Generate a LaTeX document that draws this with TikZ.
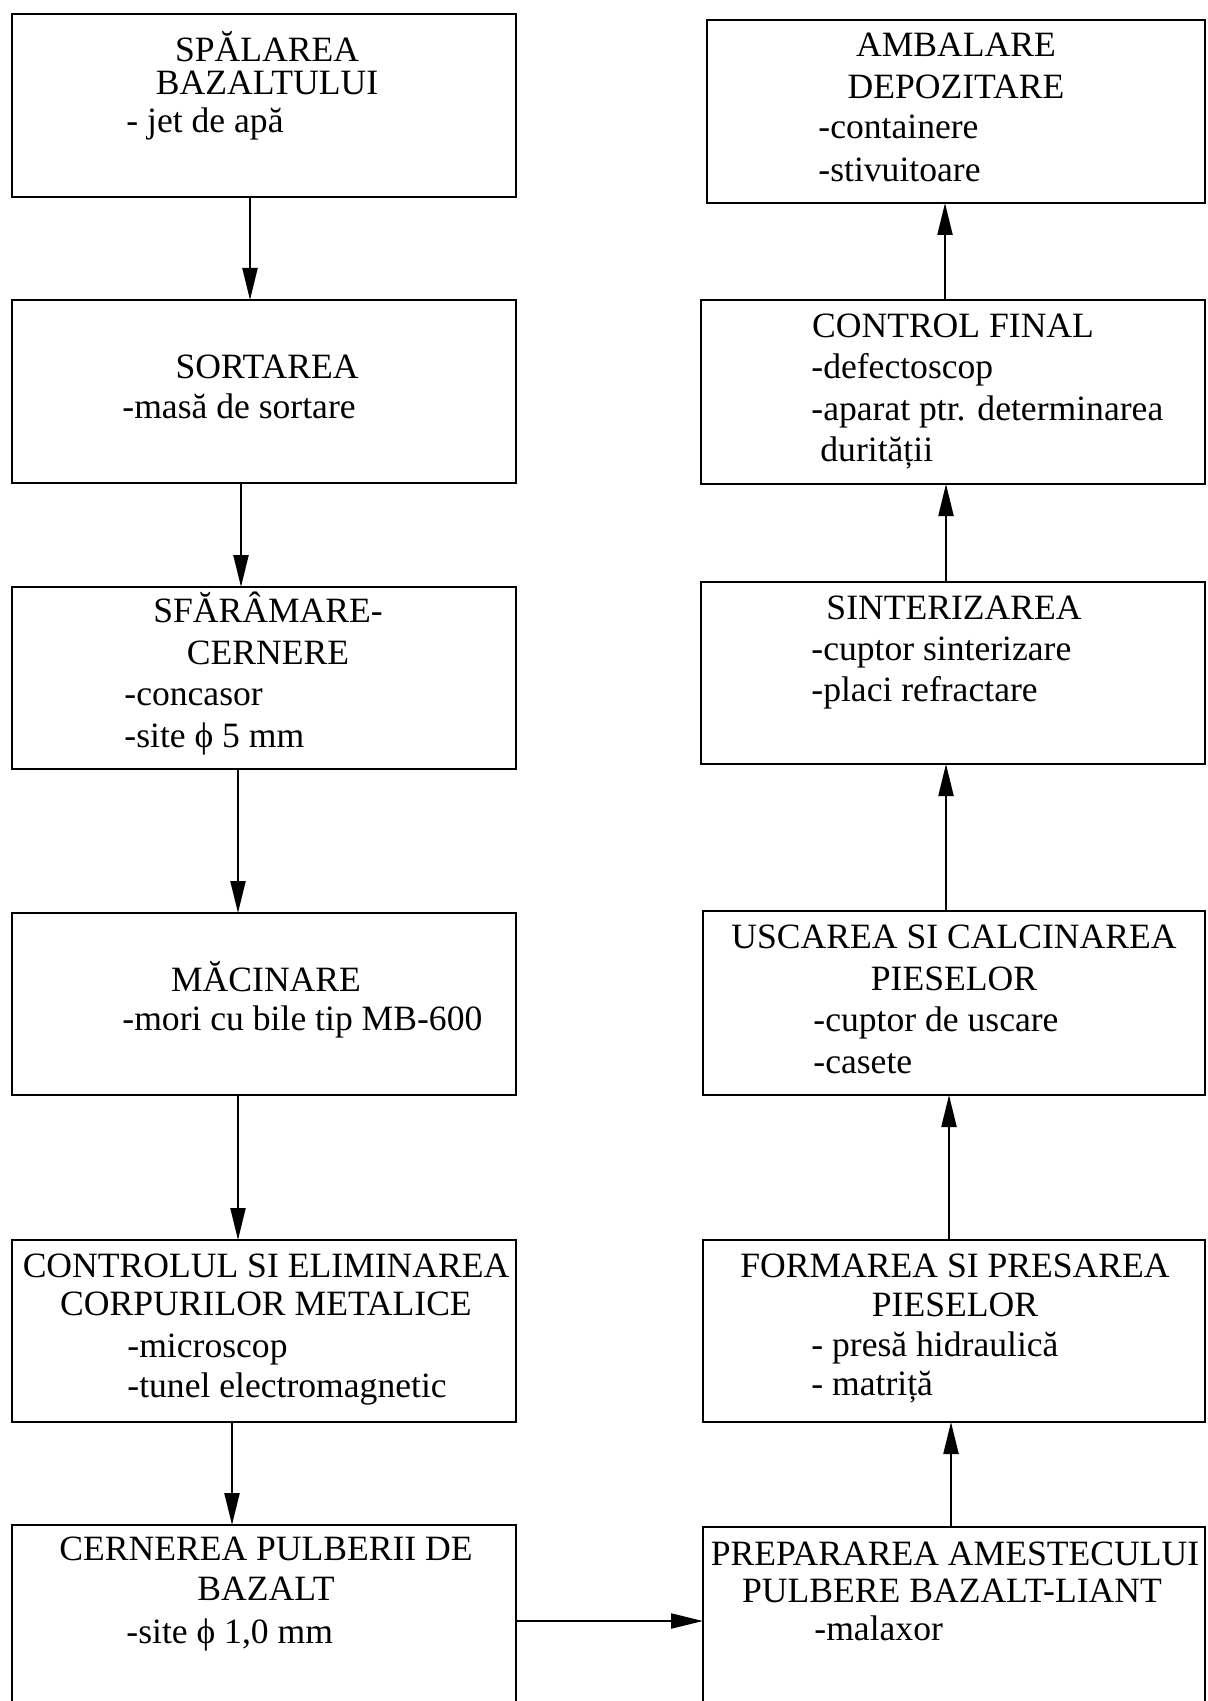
\documentclass[tikz,border=0pt]{standalone}
\usepackage{fontspec}
\setmainfont{Liberation Serif}
\usetikzlibrary{arrows.meta}
\begin{document}
\begin{tikzpicture}[x=0.5pt,y=-0.5pt,
  box/.style={draw=black, line width=1.2pt, rectangle, inner sep=0pt, outer sep=0pt, anchor=north west},
  ttl/.style={anchor=base, inner sep=0pt, font=\fontsize{17.8}{20}\selectfont},
  itm/.style={anchor=base west, inner sep=0pt, font=\fontsize{17.8}{20}\selectfont},
  arr/.style={line width=1.1pt, -{Triangle[length=16pt,width=7.5pt]}}]
\useasboundingbox (0,0) rectangle (1207,1701);
\fill[white] (0,0) rectangle (1207,1701);
\clip (0,0) rectangle (1207,1701);

% left column of process steps
\node[box, minimum width=252pt, minimum height=91.5pt] (B1) at (12,14) {};
\node[box, minimum width=252pt, minimum height=91.5pt] (B2) at (12,300) {};
\node[box, minimum width=252pt, minimum height=91pt]   (B3) at (12,587) {};
\node[box, minimum width=252pt, minimum height=91pt]   (B4) at (12,913) {};
\node[box, minimum width=252pt, minimum height=91pt]   (B5) at (12,1240) {};
\node[box, minimum width=252pt, minimum height=96pt]   (B6) at (12,1525) {};

% right column of process steps
\node[box, minimum width=249pt, minimum height=91.5pt] (R1) at (707,20) {};
\node[box, minimum width=252pt, minimum height=92pt]   (R2) at (701,300) {};
\node[box, minimum width=252pt, minimum height=91pt]   (R3) at (701,582) {};
\node[box, minimum width=251pt, minimum height=92pt]   (R4) at (703,911) {};
\node[box, minimum width=251pt, minimum height=91pt]   (R5) at (703,1240) {};
\node[box, minimum width=251pt, minimum height=95pt]   (R6) at (703,1527) {};

% texts, left column
\node[ttl] (b1a) at (267,62)  {SPĂLAREA};
\node[ttl] (b1b) at (267,95)  {BAZALTULUI};
\node[itm] (b1c) at (126,133) {- jet de apă};

\node[ttl] (b2a) at (267,379) {SORTAREA};
\node[itm] (b2b) at (122,418) {-masă de sortare};

\node[ttl] (b3a) at (268,622) {SFĂRÂMARE-};
\node[ttl] (b3b) at (268,664) {CERNERE};
\node[itm] (b3c) at (124,705) {-concasor};
\node[itm] (b3d) at (124,747) {-site ϕ 5 mm};

\node[ttl] (b4a) at (266,991)  {MĂCINARE};
\node[itm] (b4b) at (122,1030) {-mori cu bile tip MB-600};

\node[ttl] (b5a) at (266,1277) {CONTROLUL SI ELIMINAREA};
\node[ttl] (b5b) at (266,1315) {CORPURILOR METALICE};
\node[itm] (b5c) at (127,1357) {-microscop};
\node[itm] (b5d) at (127,1397) {-tunel electromagnetic};

\node[ttl] (b6a) at (266,1560) {CERNEREA PULBERII DE};
\node[ttl] (b6b) at (266,1600) {BAZALT};
\node[itm] (b6c) at (126,1643) {-site ϕ 1,0 mm};

% texts, right column
\node[ttl] (r1a) at (956,57)  {AMBALARE};
\node[ttl] (r1b) at (956,99)  {DEPOZITARE};
\node[itm] (r1c) at (818,139) {-containere};
\node[itm] (r1d) at (818,182) {-stivuitoare};

\node[ttl] (r2a) at (953,337) {CONTROL FINAL};
\node[itm] (r2b) at (811,379) {-defectoscop};
\node[itm] (r2c) at (811,420) {-aparat ptr. determinarea};
\node[itm] (r2d) at (820,461) {durității};

\node[ttl] (r3a) at (954,619) {SINTERIZAREA};
\node[itm] (r3b) at (811,660) {-cuptor sinterizare};
\node[itm] (r3c) at (811,701) {-placi refractare};

\node[ttl] (r4a) at (954,948)  {USCAREA SI CALCINAREA};
\node[ttl] (r4b) at (954,990)  {PIESELOR};
\node[itm] (r4c) at (813,1031) {-cuptor de uscare};
\node[itm] (r4d) at (813,1073) {-casete};

\node[ttl] (r5a) at (955,1277) {FORMAREA SI PRESAREA};
\node[ttl] (r5b) at (955,1316) {PIESELOR};
\node[itm] (r5c) at (811,1356) {- presă hidraulică};
\node[itm] (r5d) at (811,1395) {- matriță};

\node[ttl] (r6a) at (955,1565) {PREPARAREA AMESTECULUI};
\node[ttl] (r6b) at (952,1602) {PULBERE BAZALT-LIANT};
\node[itm] (r6c) at (814,1640) {-malaxor};

% flow down the left column
\draw[arr] ([xshift=-7pt]B1.south)    -- ([xshift=-7pt]B2.north);
\draw[arr] ([xshift=-11.5pt]B2.south) -- ([xshift=-11.5pt]B3.north);
\draw[arr] ([xshift=-13pt]B3.south)   -- ([xshift=-13pt]B4.north);
\draw[arr] ([xshift=-13pt]B4.south)   -- ([xshift=-13pt]B5.north);
\draw[arr] ([xshift=-16pt]B5.south)   -- ([xshift=-16pt]B6.north);

% across to the mixing step
\coordinate (h1) at (B6.east);
\draw[arr] (h1) -- (h1 -| R6.west);

% flow up the right column
\coordinate (u5) at ([xshift=-1.5pt]R6.north);
\draw[arr] (u5) -- (u5 |- R5.south);
\coordinate (u4) at ([xshift=-2.5pt]R5.north);
\draw[arr] (u4) -- (u4 |- R4.south);
\coordinate (u3) at ([xshift=-4pt]R4.north);
\draw[arr] (u3) -- (u3 |- R3.south);
\coordinate (u2) at ([xshift=-3.5pt]R3.north);
\draw[arr] (u2) -- (u2 |- R2.south);
\coordinate (u1) at ([xshift=-4pt]R2.north);
\draw[arr] (u1) -- (u1 |- R1.south);
\end{tikzpicture}
\end{document}
